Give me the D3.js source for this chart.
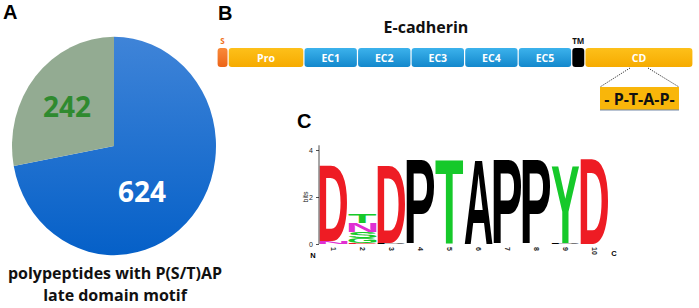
<!DOCTYPE html>
<html lang="en">
<head>
<meta charset="utf-8">
<title>E-cadherin PTAP motif</title>
<script src="https://d3js.org/d3.v7.min.js"></script>
<style>
  body { margin: 0; background: #fff; }
  svg { display: block; }
  .panel { font-family: "Liberation Sans", Arial, sans-serif; font-weight: bold; font-size: 20px; }
  .cal { font-family: "Open Sans", sans-serif; font-weight: bold; }
</style>
</head>
<body>
<div id="canvas"></div>
<script>
// ---- data ----
var pieLabels = ["with motif (blue)", "other (grey)"];
var pieValues = [624, 242];
var captionLines = ["polypeptides with P(S/T)AP", "late domain motif"];

var domainNames = ["S", "Pro", "EC1", "EC2", "EC3", "EC4", "EC5", "TM", "CD"];
var domainUnits = [11, 75, 53, 53, 53, 53, 53, 13, 107];
var domainKinds = ["signal", "pro", "ec", "ec", "ec", "ec", "ec", "tm", "cd"];
var motifText = "- P-T-A-P-";

var logoPositions = [1, 2, 3, 4, 5, 6, 7, 8, 9, 10];
// stacks bottom -> top, [letter, bits]
var logoStacks = [
  [["N", 0.12], ["D", 3.2]],
  [["E", 0.04], ["G", 0.22], ["S", 0.26], ["N", 0.38], ["T", 0.38]],
  [["P", 0.05], ["D", 3.25]],
  [["P", 3.6]],
  [["T", 3.6]],
  [["A", 3.6]],
  [["P", 3.6]],
  [["P", 3.6]],
  [["P", 0.06], ["Y", 3.25]],
  [["D", 3.6]]
];
var bitTicks = [0, 2, 4];

var width = 699, height = 308;
var svg = d3.select("#canvas").append("svg")
  .attr("width", width).attr("height", height);
var defs = svg.append("defs");

function vgrad(id, c1, c2) {
  var g = defs.append("linearGradient").attr("id", id)
    .attr("x1", 0).attr("y1", 0).attr("x2", 0).attr("y2", 1);
  g.append("stop").attr("offset", "0%").attr("stop-color", c1);
  g.append("stop").attr("offset", "100%").attr("stop-color", c2);
}
vgrad("gBlue", "#3f84d8", "#0560c8");
vgrad("gEC", "#3cb2ec", "#1388cc");
vgrad("gYel", "#fdc01a", "#f6ab00");
vgrad("gOra", "#f98a3a", "#ec6418");

// ---- panel labels ----
svg.append("text").attr("class", "panel").attr("x", 3).attr("y", 19).text("A");
svg.append("text").attr("class", "panel").attr("x", 218).attr("y", 20).text("B");
svg.append("text").attr("class", "panel").attr("x", 297).attr("y", 128).text("C");

// ---- A: pie ----
var cx = 114, cy = 146, r = 102;
var pie = d3.pie().sort(null).value(function (d) { return d; });
var arc = d3.arc().innerRadius(0).outerRadius(r);
var pieG = svg.append("g")
  .attr("transform", "translate(" + cx + "," + cy + ") scale(1,1.07)");
var sliceFill = ["url(#gBlue)", "#93ab92"];
pieG.selectAll("path").data(pie(pieValues)).enter().append("path")
  .attr("d", arc)
  .attr("fill", function (d, i) { return sliceFill[i]; });

var labelPos = [[142, 202, "#ffffff", 28], [67, 117, "#2f8a2f", 28]];
pieValues.forEach(function (v, i) {
  svg.append("text").attr("class", "cal")
    .attr("x", labelPos[i][0]).attr("y", labelPos[i][1])
    .attr("text-anchor", "middle")
    .attr("fill", labelPos[i][2])
    .style("font-size", labelPos[i][3] + "px")
    .text(v);
});

svg.selectAll(".cap").data(captionLines).enter().append("text")
  .attr("class", "cal cap")
  .attr("x", 115).attr("y", function (d, i) { return 279 + i * 22; })
  .attr("text-anchor", "middle")
  .style("font-size", "16px")
  .attr("fill", "#111")
  .text(function (d) { return d; });

// ---- B: domain map ----
svg.append("text").attr("class", "cal")
  .attr("x", 426).attr("y", 33).attr("text-anchor", "middle")
  .style("font-size", "16px").attr("fill", "#111").text("E-cadherin");

var cum = [0];
domainUnits.forEach(function (u, i) { cum.push(cum[i] + u); });
var xDom = d3.scaleLinear().domain([0, cum[cum.length - 1]]).range([217, 693]);
var kindFill = { signal: "url(#gOra)", pro: "url(#gYel)", ec: "url(#gEC)", tm: "#000", cd: "url(#gYel)" };
var barTop = 48, barH = 19;

var segs = svg.append("g").selectAll("g").data(domainNames).enter().append("g");
segs.append("rect")
  .attr("x", function (d, i) { return xDom(cum[i]) + 0.6; })
  .attr("y", barTop)
  .attr("width", function (d, i) { return xDom(cum[i + 1]) - xDom(cum[i]) - 1.2; })
  .attr("height", barH)
  .attr("rx", 3)
  .attr("fill", function (d, i) { return kindFill[domainKinds[i]]; });
segs.filter(function (d, i) { return domainKinds[i] !== "signal" && domainKinds[i] !== "tm"; })
  .append("text").attr("class", "cal")
  .attr("x", function (d) { var i = domainNames.indexOf(d); return (xDom(cum[i]) + xDom(cum[i + 1])) / 2; })
  .attr("y", barTop + 13.5)
  .attr("text-anchor", "middle")
  .style("font-size", "10.5px")
  .attr("fill", "#fff")
  .text(function (d) { return d; });

// small labels above S and TM
var iS = domainNames.indexOf("S"), iTM = domainNames.indexOf("TM");
svg.append("text").attr("class", "cal")
  .attr("x", (xDom(cum[iS]) + xDom(cum[iS + 1])) / 2).attr("y", 44)
  .attr("text-anchor", "middle").style("font-size", "8px").attr("fill", "#f07020").text("S");
svg.append("text").attr("class", "cal")
  .attr("x", (xDom(cum[iTM]) + xDom(cum[iTM + 1])) / 2).attr("y", 44)
  .attr("text-anchor", "middle").style("font-size", "8px").attr("fill", "#111").text("TM");

// motif zoom
var boxX = 600, boxY = 87, boxW = 79, boxH = 23;
svg.append("line").attr("x1", 630).attr("y1", barTop + barH + 1).attr("x2", boxX).attr("y2", boxY)
  .attr("stroke", "#333").attr("stroke-width", 1).attr("stroke-dasharray", "1.2,1.2");
svg.append("line").attr("x1", 648).attr("y1", barTop + barH + 1).attr("x2", boxX + boxW).attr("y2", boxY)
  .attr("stroke", "#333").attr("stroke-width", 1).attr("stroke-dasharray", "1.2,1.2");
svg.append("rect").attr("x", boxX).attr("y", boxY).attr("width", boxW).attr("height", boxH)
  .attr("fill", "#f9b60a");
svg.append("line").attr("x1", boxX).attr("x2", boxX + boxW).attr("y1", boxY + boxH).attr("y2", boxY + boxH)
  .attr("stroke", "#7388a8").attr("stroke-width", 1.2);
svg.append("text").attr("class", "cal")
  .attr("x", boxX + boxW / 2).attr("y", boxY + 17.5).attr("text-anchor", "middle")
  .style("font-size", "16px").attr("fill", "#111").text(motifText);

// ---- C: sequence logo ----
var chem = { D: "#ee1c24", E: "#ee1c24", N: "#e02fd2", Q: "#e02fd2",
  S: "#16c92a", T: "#16c92a", G: "#16c92a", Y: "#16c92a", C: "#16c92a",
  K: "#2030e0", R: "#2030e0", H: "#2030e0" };
function letterColor(l) { return chem[l] || "#000"; }

var xL = d3.scaleBand().domain(logoPositions).range([319, 609]).paddingInner(0);
var yL = d3.scaleLinear().domain([0, 4]).range([244, 150]);

var cv = document.createElement("canvas").getContext("2d");
cv.font = "bold 100px 'Liberation Sans'";
function ink(l) {
  var m = cv.measureText(l);
  return { l: m.actualBoundingBoxLeft, r: m.actualBoundingBoxRight,
           a: m.actualBoundingBoxAscent, d: m.actualBoundingBoxDescent };
}

var logo = svg.append("g");
logoStacks.forEach(function (stack, i) {
  var base = 0;
  stack.forEach(function (s) {
    var letter = s[0], bits = s[1];
    var x0 = xL(logoPositions[i]) + 0.5, w = xL.bandwidth() - 1;
    var yTop = yL(base + bits), yBot = yL(base);
    var h = yBot - yTop;
    var m = ink(letter);
    var iw = m.l + m.r, ih = m.a + m.d;
    logo.append("text")
      .attr("font-family", "Liberation Sans").attr("font-weight", "bold")
      .attr("font-size", 100)
      .attr("fill", letterColor(letter))
      .attr("transform", "translate(" + x0 + "," + yTop + ") scale(" + (w / iw) + "," + (h / ih) + ") translate(" + m.l + "," + m.a + ")")
      .text(letter);
    base += bits;
  });
});

// axis
var axisG = svg.append("g").attr("transform", "translate(319,0)");
axisG.call(d3.axisLeft(yL).tickValues(bitTicks).tickSize(3).tickFormat(d3.format("d")));
axisG.select(".domain").attr("d", "M0," + yL(4.2) + "V" + yL(0));
axisG.selectAll("text").attr("font-family", "Liberation Sans").attr("font-size", 7).attr("fill", "#222");
axisG.selectAll("line,path").attr("stroke", "#222").attr("stroke-width", 0.8);
svg.append("text").attr("transform", "translate(308,197) rotate(-90)")
  .attr("text-anchor", "middle").attr("font-family", "Liberation Sans")
  .attr("font-size", 7).attr("fill", "#222").text("bits");

svg.append("g").selectAll("text").data(logoPositions).enter().append("text")
  .attr("transform", function (d) { return "translate(" + (xL(d) + xL.bandwidth() / 2 - 2.5) + ",247) rotate(90)"; })
  .attr("font-family", "Liberation Sans").attr("font-weight", "bold")
  .attr("font-size", 7).attr("fill", "#222")
  .text(function (d) { return d; });
svg.append("text").attr("x", 313).attr("y", 258).attr("text-anchor", "middle")
  .attr("font-family", "Liberation Sans").attr("font-weight", "bold").attr("font-size", 7.5).text("N");
svg.append("text").attr("x", 614).attr("y", 256).attr("text-anchor", "middle")
  .attr("font-family", "Liberation Sans").attr("font-weight", "bold").attr("font-size", 7.5).text("C");
</script>
</body>
</html>
